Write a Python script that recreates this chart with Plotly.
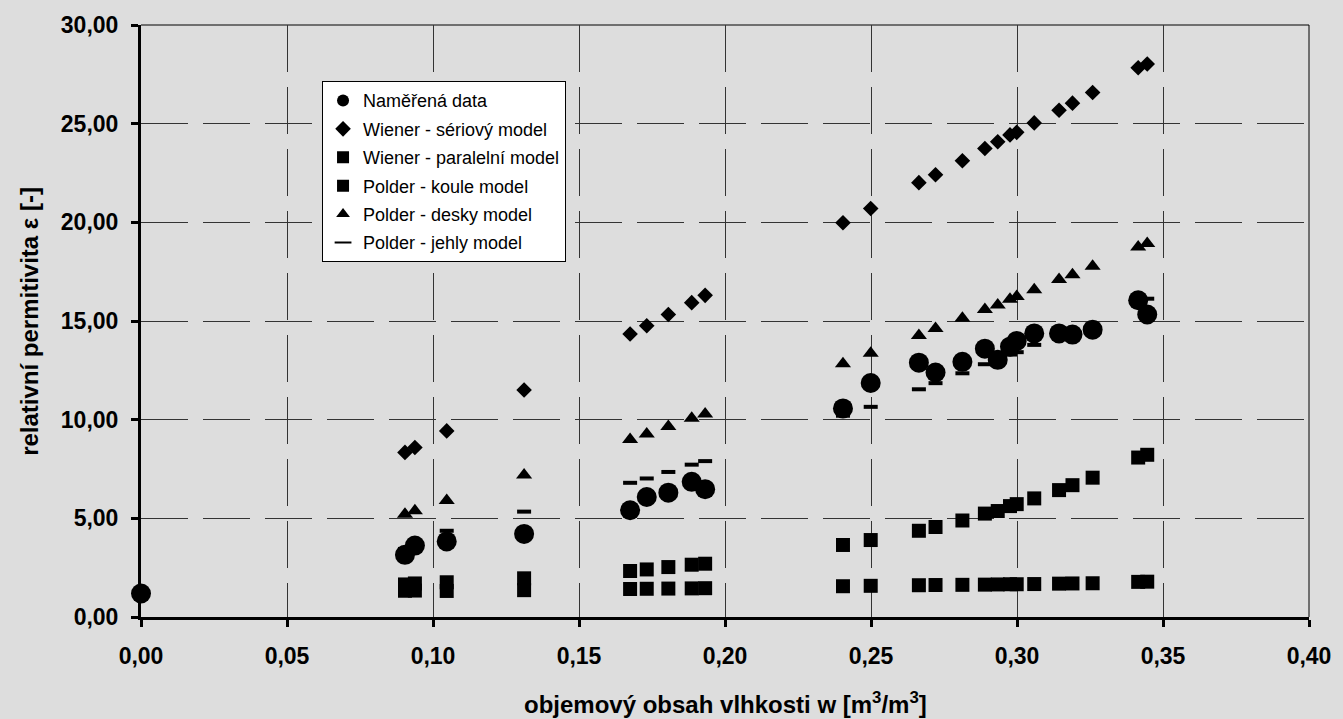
import plotly.graph_objects as go

# ---- data ----
w = [0.0, 0.0904, 0.0938, 0.1047, 0.1312, 0.1675, 0.1732, 0.1806, 0.1886, 0.1932,
     0.2404, 0.2499, 0.2664, 0.2721, 0.2813, 0.2890, 0.2934, 0.2976, 0.2999, 0.3059,
     0.3144, 0.3190, 0.3259, 0.3415, 0.3446]
w_models = w[1:]

namerena = [1.19, 3.15, 3.62, 3.83, 4.21, 5.41, 6.08, 6.30, 6.85, 6.48,
            10.57, 11.86, 12.89, 12.39, 12.93, 13.60, 13.03, 13.70, 13.99, 14.37,
            14.37, 14.31, 14.56, 16.05, 15.33]
wiener_seriovy = [8.34, 8.59, 9.43, 11.50, 14.34, 14.76, 15.33, 15.93, 16.30,
                  19.98, 20.70, 22.01, 22.41, 23.12, 23.74, 24.08, 24.43, 24.56, 25.04,
                  25.68, 26.04, 26.58, 27.83, 28.02]
wiener_paralelni = [1.33, 1.34, 1.32, 1.36, 1.42, 1.43, 1.44, 1.45, 1.46,
                    1.56, 1.58, 1.61, 1.62, 1.63, 1.64, 1.65, 1.66, 1.66, 1.67,
                    1.69, 1.70, 1.71, 1.78, 1.79]
polder_koule = [1.65, 1.70, 1.76, 1.96, 2.33, 2.41, 2.53, 2.65, 2.70,
                3.65, 3.90, 4.37, 4.56, 4.89, 5.24, 5.37, 5.62, 5.72, 6.01,
                6.43, 6.68, 7.06, 8.08, 8.22]
polder_desky = [5.21, 5.38, 5.91, 7.19, 8.99, 9.27, 9.65, 10.07, 10.29,
                12.83, 13.37, 14.27, 14.62, 15.14, 15.58, 15.81, 16.10, 16.24, 16.58,
                17.10, 17.35, 17.77, 18.75, 18.93]
polder_jehly = [3.45, 3.55, 4.37, 5.34, 6.80, 7.02, 7.35, 7.72, 7.90,
                10.20, 10.65, 11.54, 11.85, 12.35, 12.81, 13.05, 13.30, 13.42, 13.79,
                14.30, 14.50, 14.75, 15.85, 16.13]

names = ["Naměřená data", "Wiener - sériový model", "Wiener - paralelní model",
         "Polder - koule model", "Polder - desky model", "Polder - jehly model"]

x_title = "objemový obsah vlhkosti w [m<sup>3</sup>/m<sup>3</sup>]"
y_title = "relativní permitivita ε [-]"

FONT = "Liberation Sans, Arial, sans-serif"
BG = "#dddddd"

fig = go.Figure()

def add(x, y, name, marker, gid):
    fig.add_trace(go.Scatter(x=x, y=y, mode="markers", name=name, marker=marker,
                             legendgroup=gid, cliponaxis=False))

add(w, namerena, names[0], dict(symbol="circle", size=20, color="black"), "g0")
add(w_models, wiener_seriovy, names[1], dict(symbol="diamond", size=12, color="black"), "g1")
add(w_models, wiener_paralelni, names[2], dict(symbol="square", size=14, color="black"), "g2")
add(w_models, polder_koule, names[3], dict(symbol="square", size=14, color="black"), "g3")
add(w_models, polder_desky, names[4], dict(symbol="triangle-up", size=14, color="black"), "g4")
add(w_models, polder_jehly, names[5],
    dict(symbol="line-ew", size=10, color="black", line=dict(width=4, color="black")), "g5")

grid = dict(showgrid=True, gridcolor="#333333", gridwidth=1, griddash="47px,15px")
tickfont = dict(family=FONT, size=23, color="black", weight="bold")

fig.update_layout(
    width=1343, height=719,
    paper_bgcolor=BG, plot_bgcolor=BG,
    margin=dict(l=141, r=34, t=20, b=102),
    separators=", ",
    font=dict(family=FONT, color="black"),
    showlegend=True,
    legend=dict(x=0.155, y=0.905, xanchor="left", yanchor="top",
                bgcolor="white", bordercolor="black", borderwidth=1,
                font=dict(family=FONT, size=18, color="black"),
                traceorder="grouped", tracegroupgap=2, itemsizing="constant",
                itemwidth=30),
    xaxis=dict(range=[0, 0.40], dtick=0.05, tick0=0, tickformat=".2f",
               showline=True, linecolor="black", linewidth=3,
               ticks="outside", ticklen=7, tickwidth=3, tickcolor="black",
               tickfont=tickfont, ticklabelstandoff=9,
               zeroline=False, **grid),
    yaxis=dict(range=[0, 30], dtick=5, tick0=0, tickformat=".2f",
               showline=True, linecolor="black", linewidth=3,
               ticks="outside", ticklen=7, tickwidth=3, tickcolor="black",
               tickfont=tickfont, ticklabelstandoff=8,
               zeroline=False, **grid),
    annotations=[
        dict(text="<b>" + x_title + "</b>", xref="paper", yref="paper",
             x=0.5, y=-0.146, xanchor="center", yanchor="middle", showarrow=False,
             font=dict(family=FONT, size=24, color="black")),
        dict(text="<b>" + y_title + "</b>", xref="paper", yref="paper",
             x=-0.096, y=0.5, xanchor="center", yanchor="middle", showarrow=False,
             textangle=-90, font=dict(family=FONT, size=24, color="black")),
    ],
)

# thin plot-area border (top and right)
fig.add_shape(type="line", xref="paper", yref="paper", x0=0, x1=1, y0=1, y1=1,
              line=dict(color="black", width=1), layer="below")
fig.add_shape(type="line", xref="paper", yref="paper", x0=1, x1=1, y0=0, y1=1,
              line=dict(color="black", width=1), layer="below")

fig.write_html(
    "out.html",
    config={"displayModeBar": False},
    post_script="document.body.style.margin='0';document.body.style.background='#dddddd';",
)
